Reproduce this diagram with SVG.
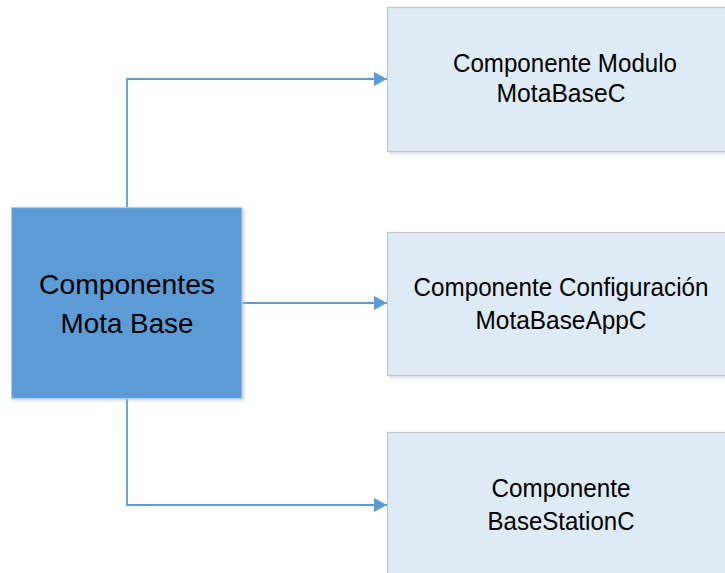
<svg xmlns="http://www.w3.org/2000/svg" width="725" height="573" viewBox="0 0 725 573">
  <defs>
    <marker id="arrow" markerWidth="13" markerHeight="14" refX="13" refY="7" orient="auto" markerUnits="userSpaceOnUse">
      <path d="M0,0 L13,7 L0,14 Z" fill="#5B9BD5"/>
    </marker>
    <filter id="shadow" x="-5%" y="-5%" width="115%" height="115%">
      <feDropShadow dx="2" dy="2" stdDeviation="1.5" flood-color="#9fb8d6" flood-opacity="0.45"/>
    </filter>
  </defs>
  <style>
    .main { fill: #5B9BD5; stroke: #b9c9dc; stroke-width: 1.2; }
    .sub { fill: #DEEAF6; stroke: #c3c3c3; stroke-width: 1.2; }
    .lbl { font-family: "Liberation Sans", Arial, sans-serif; fill: #000; text-anchor: middle; }
    .big { font-size: 28px; }
    .small { font-size: 25px; }
    .conn { fill: none; stroke: #5B9BD5; stroke-width: 1.8; }
  </style>
  <rect width="725" height="573" fill="#ffffff"/>

  <g id="connectors">
    <path class="conn" d="M127,207 V79 H387" marker-end="url(#arrow)"/>
    <path class="conn" d="M242,303 H387" marker-end="url(#arrow)"/>
    <path class="conn" d="M127,398 V505 H387" marker-end="url(#arrow)"/>
  </g>

  <g id="mota-base">
    <rect class="main" x="11.5" y="207.5" width="230.5" height="191" filter="url(#shadow)"/>
    <text class="lbl big" x="127" y="294" textLength="176" lengthAdjust="spacingAndGlyphs">Componentes</text>
    <text class="lbl big" x="127" y="333" textLength="133" lengthAdjust="spacingAndGlyphs">Mota Base</text>
  </g>

  <g id="modulo">
    <rect class="sub" x="387.5" y="7.5" width="350" height="144" filter="url(#shadow)"/>
    <text class="lbl small" x="565" y="72" textLength="224" lengthAdjust="spacingAndGlyphs">Componente Modulo</text>
    <text class="lbl small" x="561" y="102" textLength="129" lengthAdjust="spacingAndGlyphs">MotaBaseC</text>
  </g>

  <g id="configuracion">
    <rect class="sub" x="387.5" y="232.5" width="350" height="143" filter="url(#shadow)"/>
    <text class="lbl small" x="561" y="296" textLength="295" lengthAdjust="spacingAndGlyphs">Componente Configuración</text>
    <text class="lbl small" x="561" y="329" textLength="171" lengthAdjust="spacingAndGlyphs">MotaBaseAppC</text>
  </g>

  <g id="base-station">
    <rect class="sub" x="387.5" y="432.5" width="350" height="160" filter="url(#shadow)"/>
    <text class="lbl small" x="561" y="497" textLength="139" lengthAdjust="spacingAndGlyphs">Componente</text>
    <text class="lbl small" x="561" y="530" textLength="147" lengthAdjust="spacingAndGlyphs">BaseStationC</text>
  </g>
</svg>
